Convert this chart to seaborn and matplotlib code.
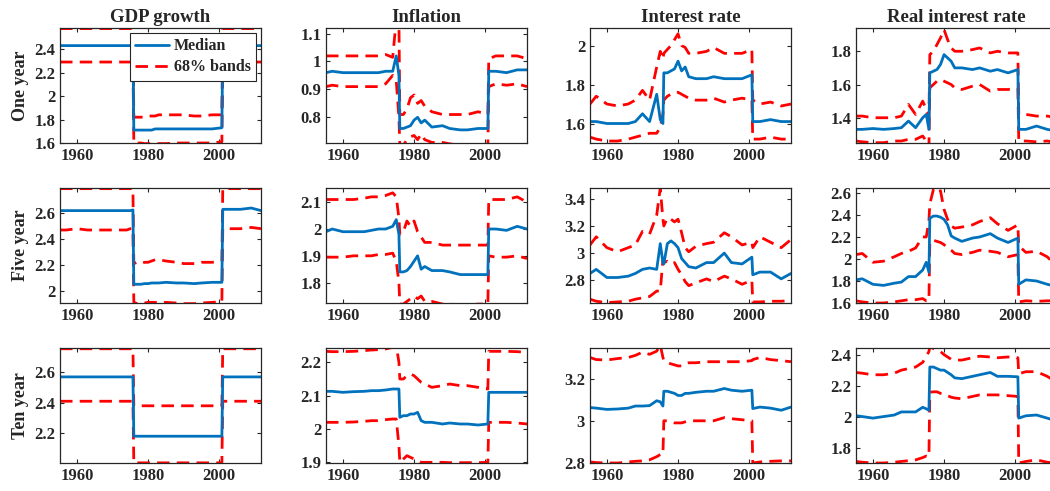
import numpy as np
import seaborn as sns
from matplotlib import pyplot as plt
from matplotlib.lines import Line2D
from matplotlib.ticker import FuncFormatter

# common date grid (quarters)
years = [1955.25, 1957, 1960, 1963, 1966, 1968, 1970, 1972, 1974, 1975, 1975.75,
         1976, 1977, 1978, 1979, 1980, 1981, 1982, 1983, 1985, 1988, 1990, 1993, 1995, 1998, 2000.75,
         2001, 2003, 2006, 2009, 2011.75]

col_titles = ["GDP growth", "Inflation", "Interest rate", "Real interest rate"]
row_titles = ["One year", "Five year", "Ten year"]

# ---- one year ----
gdp1_med = [2.43, 2.43, 2.43, 2.43, 2.43, 2.43, 2.43, 2.43, 2.43, 2.43, 2.43,
            1.71, 1.71, 1.71, 1.71, 1.71, 1.71, 1.72, 1.72, 1.72, 1.72, 1.72, 1.72, 1.72, 1.72, 1.73,
            2.43, 2.43, 2.43, 2.43, 2.43]
gdp1_hi = [2.575, 2.575, 2.575, 2.575, 2.575, 2.575, 2.575, 2.575, 2.575, 2.575, 2.575,
           1.82, 1.82, 1.82, 1.82, 1.83, 1.83, 1.83, 1.84, 1.84, 1.84, 1.84, 1.83, 1.83, 1.84, 1.84,
           2.575, 2.575, 2.575, 2.575, 2.575]
gdp1_lo = [2.29, 2.29, 2.29, 2.29, 2.29, 2.29, 2.29, 2.29, 2.29, 2.29, 2.29,
           1.60, 1.60, 1.60, 1.595, 1.595, 1.595, 1.595, 1.595, 1.595, 1.60, 1.60, 1.60, 1.60, 1.60, 1.61,
           2.29, 2.29, 2.29, 2.29, 2.29]

inf1_med = [0.96, 0.965, 0.96, 0.96, 0.96, 0.96, 0.96, 0.965, 0.965, 1.02, 0.95,
            0.76, 0.76, 0.765, 0.77, 0.79, 0.80, 0.78, 0.79, 0.765, 0.77, 0.76, 0.755, 0.755, 0.76, 0.76,
            0.965, 0.965, 0.96, 0.97, 0.97]
inf1_hi = [1.02, 1.02, 1.02, 1.02, 1.02, 1.02, 1.02, 1.025, 1.015, 1.15, 1.15,
           0.81, 0.81, 0.83, 0.87, 0.88, 0.85, 0.86, 0.84, 0.82, 0.81, 0.81, 0.81, 0.81, 0.82, 0.81,
           1.01, 1.02, 1.02, 1.02, 1.01]
inf1_lo = [0.91, 0.915, 0.91, 0.91, 0.91, 0.91, 0.91, 0.92, 0.95, 0.93, 0.80,
           0.70, 0.70, 0.72, 0.73, 0.735, 0.72, 0.74, 0.72, 0.71, 0.71, 0.705, 0.70, 0.70, 0.70, 0.70,
           0.91, 0.92, 0.915, 0.92, 0.91]

int1_med = [1.61, 1.61, 1.60, 1.60, 1.60, 1.61, 1.65, 1.61, 1.75, 1.62, 1.60,
            1.86, 1.86, 1.87, 1.88, 1.92, 1.87, 1.89, 1.84, 1.83, 1.83, 1.84, 1.83, 1.83, 1.83, 1.85,
            1.61, 1.61, 1.62, 1.61, 1.61]
int1_hi = [1.70, 1.74, 1.70, 1.69, 1.70, 1.72, 1.77, 1.72, 1.89, 1.97, 1.93,
           1.96, 1.98, 2.00, 2.03, 2.06, 2.00, 1.99, 1.96, 1.96, 1.97, 1.99, 1.96, 1.96, 1.96, 1.98,
           1.72, 1.70, 1.71, 1.69, 1.70]
int1_lo = [1.53, 1.52, 1.51, 1.51, 1.52, 1.53, 1.54, 1.55, 1.55, 1.58, 1.65,
           1.72, 1.74, 1.75, 1.76, 1.76, 1.75, 1.74, 1.73, 1.72, 1.72, 1.73, 1.71, 1.72, 1.73, 1.72,
           1.52, 1.52, 1.53, 1.52, 1.52]

real1_med = [1.33, 1.33, 1.335, 1.33, 1.335, 1.34, 1.38, 1.34, 1.40, 1.42, 1.33,
             1.67, 1.68, 1.69, 1.72, 1.78, 1.76, 1.74, 1.70, 1.70, 1.69, 1.70, 1.68, 1.69, 1.67, 1.69,
             1.33, 1.33, 1.35, 1.33, 1.32]
real1_hi = [1.41, 1.41, 1.40, 1.40, 1.40, 1.41, 1.48, 1.42, 1.50, 1.45, 1.40,
            1.78, 1.80, 1.84, 1.88, 1.93, 1.87, 1.82, 1.80, 1.80, 1.81, 1.82, 1.79, 1.80, 1.79, 1.79,
            1.42, 1.42, 1.41, 1.41, 1.40]
real1_lo = [1.26, 1.255, 1.25, 1.25, 1.26, 1.26, 1.27, 1.27, 1.29, 1.26, 1.22,
            1.58, 1.60, 1.62, 1.63, 1.62, 1.61, 1.60, 1.58, 1.57, 1.59, 1.60, 1.56, 1.57, 1.57, 1.58,
            1.26, 1.26, 1.255, 1.26, 1.25]

# ---- five year ----
gdp5_med = [2.62, 2.62, 2.62, 2.62, 2.62, 2.62, 2.62, 2.62, 2.62, 2.62, 2.625,
            2.05, 2.05, 2.05, 2.055, 2.055, 2.06, 2.06, 2.06, 2.065, 2.06, 2.06, 2.055, 2.06, 2.065, 2.065,
            2.63, 2.63, 2.63, 2.64, 2.62]
gdp5_hi = [2.79, 2.79, 2.79, 2.79, 2.79, 2.79, 2.79, 2.79, 2.79, 2.79, 2.79,
           2.21, 2.22, 2.21, 2.22, 2.22, 2.23, 2.24, 2.24, 2.23, 2.22, 2.21, 2.21, 2.22, 2.22, 2.23,
           2.79, 2.79, 2.79, 2.79, 2.79]
gdp5_lo = [2.47, 2.47, 2.48, 2.47, 2.47, 2.47, 2.47, 2.47, 2.47, 2.48, 2.48,
           1.91, 1.90, 1.905, 1.905, 1.91, 1.91, 1.91, 1.905, 1.91, 1.905, 1.90, 1.90, 1.905, 1.91, 1.915,
           2.48, 2.48, 2.48, 2.49, 2.48]

inf5_med = [1.99, 2.00, 1.99, 1.99, 1.99, 1.995, 2.00, 2.00, 2.01, 2.035, 1.98,
            1.84, 1.84, 1.845, 1.86, 1.88, 1.90, 1.85, 1.86, 1.845, 1.845, 1.84, 1.83, 1.83, 1.83, 1.83,
            2.00, 2.00, 1.995, 2.01, 2.00]
inf5_hi = [2.11, 2.11, 2.11, 2.11, 2.115, 2.12, 2.12, 2.125, 2.135, 2.12, 2.04,
           1.98, 1.99, 2.03, 2.01, 2.03, 1.99, 1.97, 1.95, 1.95, 1.94, 1.94, 1.94, 1.94, 1.94, 1.94,
           2.11, 2.11, 2.11, 2.12, 2.10]
inf5_lo = [1.895, 1.895, 1.895, 1.90, 1.90, 1.90, 1.905, 1.905, 1.91, 1.88, 1.80,
           1.72, 1.72, 1.73, 1.74, 1.75, 1.74, 1.75, 1.73, 1.73, 1.72, 1.72, 1.715, 1.715, 1.72, 1.72,
           1.90, 1.895, 1.895, 1.90, 1.89]

int5_med = [2.85, 2.88, 2.82, 2.82, 2.83, 2.85, 2.88, 2.89, 2.88, 3.07, 2.93,
            2.92, 3.07, 3.09, 3.07, 3.04, 2.96, 2.93, 2.90, 2.89, 2.93, 2.93, 3.00, 2.93, 2.92, 2.97,
            2.84, 2.86, 2.86, 2.81, 2.85]
int5_hi = [3.06, 3.12, 3.04, 3.01, 3.04, 3.06, 3.16, 3.14, 3.28, 3.48, 3.25,
           3.20, 3.26, 3.25, 3.23, 3.25, 3.15, 3.04, 3.01, 3.05, 3.07, 3.08, 3.15, 3.12, 3.06, 3.08,
           3.04, 3.12, 3.08, 3.04, 3.10]
int5_lo = [2.66, 2.645, 2.635, 2.64, 2.645, 2.66, 2.67, 2.68, 2.72, 2.72, 2.95,
           2.93, 2.94, 2.92, 2.93, 2.88, 2.84, 2.79, 2.76, 2.78, 2.81, 2.79, 2.83, 2.81, 2.77, 2.80,
           2.64, 2.64, 2.645, 2.645, 2.65]

real5_med = [1.81, 1.82, 1.77, 1.76, 1.78, 1.79, 1.84, 1.84, 1.90, 1.97, 1.88,
             2.37, 2.39, 2.39, 2.38, 2.36, 2.31, 2.21, 2.19, 2.16, 2.19, 2.20, 2.23, 2.19, 2.15, 2.19,
             1.77, 1.81, 1.80, 1.77, 1.75]
real5_hi = [2.04, 2.05, 1.97, 1.98, 2.02, 2.05, 2.07, 2.10, 2.20, 2.20, 2.35,
            2.50, 2.63, 2.60, 2.62, 2.45, 2.36, 2.30, 2.28, 2.29, 2.31, 2.34, 2.375, 2.32, 2.26, 2.31,
            2.12, 2.06, 2.07, 2.02, 1.93]
real5_lo = [1.62, 1.61, 1.60, 1.60, 1.61, 1.62, 1.63, 1.63, 1.64, 1.62, 1.62,
            2.16, 2.17, 2.16, 2.15, 2.13, 2.10, 2.08, 2.05, 2.04, 2.06, 2.08, 2.07, 2.06, 2.02, 2.04,
            1.61, 1.62, 1.615, 1.62, 1.62]

# ---- ten year ----
gdp10_med = [2.57, 2.57, 2.57, 2.57, 2.57, 2.57, 2.57, 2.57, 2.57, 2.57, 2.57,
             2.18, 2.18, 2.18, 2.18, 2.18, 2.18, 2.18, 2.18, 2.18, 2.18, 2.18, 2.18, 2.18, 2.18, 2.18,
             2.57, 2.57, 2.57, 2.57, 2.57]
gdp10_hi = [2.755, 2.755, 2.755, 2.755, 2.755, 2.755, 2.755, 2.755, 2.755, 2.755, 2.755,
            2.38, 2.375, 2.38, 2.38, 2.38, 2.38, 2.38, 2.38, 2.38, 2.38, 2.38, 2.38, 2.38, 2.38, 2.38,
            2.755, 2.755, 2.755, 2.755, 2.755]
gdp10_lo = [2.41, 2.41, 2.41, 2.41, 2.41, 2.41, 2.41, 2.41, 2.41, 2.41, 2.41,
            2.005, 2.005, 2.005, 2.005, 2.005, 2.005, 2.005, 2.005, 2.005, 2.005, 2.005, 2.005, 2.005, 2.005, 2.005,
            2.41, 2.41, 2.41, 2.41, 2.41]

inf10_med = [2.113, 2.113, 2.11, 2.112, 2.113, 2.115, 2.115, 2.117, 2.12, 2.12, 2.12,
             2.035, 2.04, 2.04, 2.045, 2.045, 2.05, 2.025, 2.02, 2.02, 2.015, 2.018, 2.015, 2.015, 2.012, 2.015,
             2.11, 2.11, 2.11, 2.11, 2.11]
inf10_hi = [2.233, 2.232, 2.232, 2.233, 2.235, 2.237, 2.238, 2.24, 2.245, 2.25, 2.20,
            2.15, 2.15, 2.16, 2.165, 2.16, 2.15, 2.14, 2.135, 2.125, 2.13, 2.135, 2.13, 2.13, 2.125, 2.12,
            2.233, 2.233, 2.233, 2.232, 2.23]
inf10_lo = [2.02, 2.02, 2.02, 2.021, 2.023, 2.025, 2.025, 2.028, 2.03, 2.03, 1.95,
            1.90, 1.91, 1.92, 1.915, 1.91, 1.905, 1.90, 1.90, 1.90, 1.90, 1.899, 1.899, 1.899, 1.899, 1.90,
            2.02, 2.02, 2.02, 2.018, 2.015]

int10_med = [3.063, 3.06, 3.054, 3.056, 3.06, 3.07, 3.07, 3.072, 3.095, 3.09, 3.07,
             3.14, 3.14, 3.135, 3.13, 3.12, 3.12, 3.13, 3.13, 3.135, 3.14, 3.14, 3.153, 3.145, 3.14, 3.145,
             3.058, 3.065, 3.06, 3.05, 3.065]
int10_hi = [3.30, 3.29, 3.288, 3.295, 3.30, 3.31, 3.325, 3.315, 3.33, 3.36, 3.30,
            3.285, 3.275, 3.27, 3.265, 3.26, 3.26, 3.27, 3.275, 3.275, 3.28, 3.28, 3.28, 3.28, 3.28, 3.285,
            3.29, 3.30, 3.29, 3.285, 3.28]
int10_lo = [2.805, 2.802, 2.80, 2.80, 2.805, 2.808, 2.81, 2.815, 2.83, 2.84, 2.84,
            3.00, 3.00, 2.995, 2.99, 2.99, 2.99, 2.995, 3.00, 3.00, 3.00, 3.00, 3.015, 3.01, 3.005, 3.00,
            2.80, 2.805, 2.808, 2.81, 2.81]

real10_med = [2.006, 2.00, 1.99, 2.00, 2.01, 2.03, 2.03, 2.03, 2.06, 2.05, 2.04,
              2.32, 2.32, 2.31, 2.30, 2.30, 2.285, 2.27, 2.25, 2.245, 2.26, 2.27, 2.285, 2.26, 2.26, 2.257,
              1.99, 2.005, 2.01, 1.99, 1.97]
real10_hi = [2.285, 2.28, 2.27, 2.27, 2.28, 2.30, 2.31, 2.32, 2.35, 2.39, 2.42,
             2.45, 2.44, 2.43, 2.42, 2.40, 2.385, 2.37, 2.365, 2.365, 2.38, 2.39, 2.385, 2.38, 2.385, 2.38,
             2.277, 2.29, 2.29, 2.26, 2.22]
real10_lo = [1.71, 1.705, 1.70, 1.70, 1.705, 1.71, 1.715, 1.72, 1.735, 1.745, 1.74,
             2.157, 2.16, 2.16, 2.15, 2.145, 2.135, 2.125, 2.12, 2.115, 2.13, 2.14, 2.14, 2.14, 2.135, 2.13,
             1.70, 1.71, 1.72, 1.705, 1.70]

panels = [
    [(gdp1_med, gdp1_lo, gdp1_hi), (inf1_med, inf1_lo, inf1_hi),
     (int1_med, int1_lo, int1_hi), (real1_med, real1_lo, real1_hi)],
    [(gdp5_med, gdp5_lo, gdp5_hi), (inf5_med, inf5_lo, inf5_hi),
     (int5_med, int5_lo, int5_hi), (real5_med, real5_lo, real5_hi)],
    [(gdp10_med, gdp10_lo, gdp10_hi), (inf10_med, inf10_lo, inf10_hi),
     (int10_med, int10_lo, int10_hi), (real10_med, real10_lo, real10_hi)],
]

y_ticks = [
    [[1.6, 1.8, 2, 2.2, 2.4], [0.8, 0.9, 1, 1.1], [1.6, 1.8, 2], [1.4, 1.6, 1.8]],
    [[2, 2.2, 2.4, 2.6], [1.8, 1.9, 2, 2.1], [2.8, 3, 3.2, 3.4], [1.6, 1.8, 2, 2.2, 2.4, 2.6]],
    [[2.2, 2.4, 2.6], [1.9, 2, 2.1, 2.2], [2.8, 3, 3.2], [1.8, 2, 2.2, 2.4]],
]
y_lims = [
    [(1.6, 2.58), (0.708, 1.12), (1.50, 2.09), (1.248, 1.94)],
    [(1.905, 2.795), (1.724, 2.153), (2.632, 3.48), (1.6, 2.645)],
    [(2.004, 2.76), (1.898, 2.243), (2.8, 3.345), (1.70, 2.443)],
]
x_ticks = [1960, 1980, 2000]

sns.set_style("ticks")
plt.rcParams['font.family'] = ['Liberation Serif', 'DejaVu Serif']
plt.rcParams['font.weight'] = 'bold'

blue = '#0072BD'
red = '#FF0000'
dash = (0, (4.5, 2.6))
grey = '#262626'

fig = plt.figure(figsize=(10.5, 4.91), dpi=100)
lefts = [60, 326, 590, 856]
tops = [28, 188, 348]
w_px, h_px = 201, 115

for r in range(3):
    for c in range(4):
        ax = fig.add_axes([lefts[c] / 1050, 1 - (tops[r] + h_px) / 491, w_px / 1050, h_px / 491])
        med, lo, hi = panels[r][c]
        sns.lineplot(x=years, y=hi, ax=ax, color=red, linewidth=2.0, linestyle=dash)
        sns.lineplot(x=years, y=lo, ax=ax, color=red, linewidth=2.0, linestyle=dash)
        sns.lineplot(x=years, y=med, ax=ax, color=blue, linewidth=2.0)
        ax.set_xlim(1955.25, 2011.75)
        ax.set_ylim(*y_lims[r][c])
        ax.set_xticks(x_ticks)
        ax.set_yticks(y_ticks[r][c])
        ax.yaxis.set_major_formatter(FuncFormatter(lambda v, p: f"{round(v, 2):g}"))
        ax.tick_params(direction='in', top=True, right=True, length=3, width=0.8,
                       labelsize=12, colors=grey, labelcolor=grey)
        for s in ax.spines.values():
            s.set_color(grey)
            s.set_linewidth(0.9)
        for lab in ax.get_xticklabels() + ax.get_yticklabels():
            lab.set_fontweight('bold')
        ax.set_xlabel('')
        if r == 0:
            ax.set_title(col_titles[c], fontsize=13.5, fontweight='bold', pad=4)
        if c == 0:
            ax.set_ylabel(row_titles[r], fontsize=13, fontweight='bold', labelpad=4)
        else:
            ax.set_ylabel('')
        if r == 0 and c == 0:
            handles = [Line2D([], [], color=blue, linewidth=2.0),
                       Line2D([], [], color=red, linewidth=2.0, linestyle=dash)]
            leg = ax.legend(handles, ['Median', '68% bands'], loc='upper right',
                            prop={'size': 11.5, 'weight': 'bold'}, frameon=True, fancybox=False,
                            edgecolor=grey, framealpha=1, handlelength=2.1,
                            borderaxespad=0.3, borderpad=0.35, labelspacing=0.3, handletextpad=0.3)
            leg.get_frame().set_linewidth(0.8)

fig.savefig('out.png', dpi=100)
